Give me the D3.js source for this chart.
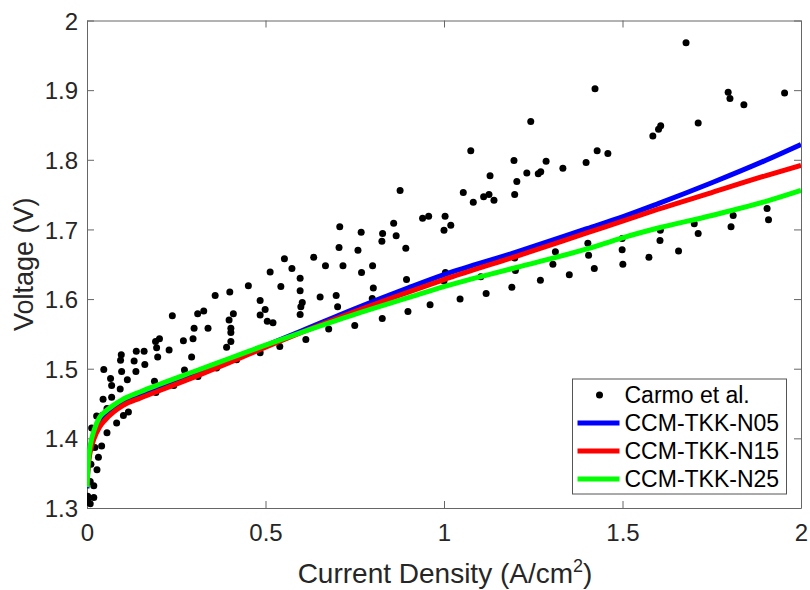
<!DOCTYPE html>
<html lang="en">
<head>
<meta charset="UTF-8">
<title>Voltage vs Current Density</title>
<script src="https://d3js.org/d3.v7.min.js"></script>
<style>
  body { margin: 0; background: #fff; }
  text { font-family: Helvetica, Arial, "Liberation Sans", sans-serif; }
</style>
</head>
<body>
<div id="chart"></div>
<script>
// measured points (Carmo et al.)
var carmoX = [0.002,0.019,0.009,0.002,0.009,0.019,0.011,0.028,0.032,0.022,0.041,0.056,0.013,0.083,0.027,0.043,0.102,0.116,0.056,
  0.045,0.069,0.132,0.093,0.069,0.066,0.113,0.189,0.243,0.193,0.047,0.097,0.137,0.162,0.273,0.311,0.363,
  0.132,0.094,0.096,0.138,0.160,0.198,0.293,0.419,0.195,0.230,0.192,0.203,0.270,0.297,0.403,0.391,
  0.300,0.339,0.403,0.403,0.239,0.310,0.327,0.410,0.398,0.359,0.400,0.452,0.485,0.499,0.485,0.505,0.521,0.485,
  0.877,0.940,0.957,0.708,0.859,0.768,0.828,0.866,0.826,0.706,0.759,0.893,
  0.553,0.635,0.574,0.668,0.717,0.800,0.513,0.769,0.597,0.543,0.895,0.802,0.597,0.653,0.698,0.799,0.603,0.599,0.702,0.597,0.961,0.899,0.827,0.750,0.677,0.613,0.540,
  1.243,1.075,1.196,1.286,1.129,1.232,1.264,1.271,1.333,1.398,1.429,1.459,1.204,1.054,1.082,1.111,1.126,1.140,1.198,1.003,1.019,1.000,
  1.004,1.000,1.045,1.103,1.118,1.198,1.200,1.190,1.312,1.305,1.270,1.351,1.403,1.405,1.421,1.499,1.499,1.501,1.423,
  1.678,1.796,1.801,1.840,1.954,1.712,1.607,1.601,1.585,1.905,1.909,1.810,1.804,1.701,1.712,1.606,1.605,1.657,1.574];
var carmoV = [1.317,1.315,1.306,1.311,1.338,1.332,1.363,1.355,1.373,1.387,1.389,1.408,1.415,1.422,1.432,1.433,1.433,1.438,1.443,
  1.456,1.459,1.460,1.471,1.476,1.486,1.484,1.482,1.476,1.466,1.499,1.496,1.496,1.506,1.498,1.489,1.501,
  1.511,1.512,1.520,1.525,1.525,1.517,1.517,1.513,1.530,1.527,1.539,1.543,1.540,1.543,1.539,1.531,
  1.558,1.558,1.558,1.552,1.576,1.579,1.583,1.579,1.570,1.605,1.610,1.619,1.598,1.585,1.577,1.568,1.566,1.523,
  1.756,1.716,1.719,1.704,1.709,1.696,1.694,1.691,1.683,1.674,1.670,1.673,
  1.658,1.660,1.644,1.648,1.648,1.648,1.639,1.638,1.630,1.618,1.628,1.616,1.612,1.603,1.605,1.601,1.595,1.589,1.589,1.578,1.592,1.582,1.572,1.562,1.557,1.542,1.532,
  1.855,1.813,1.799,1.798,1.777,1.781,1.780,1.783,1.788,1.796,1.813,1.809,1.769,1.753,1.739,1.747,1.750,1.742,1.750,1.719,1.706,1.699,
  1.638,1.626,1.600,1.632,1.608,1.659,1.641,1.617,1.668,1.650,1.627,1.635,1.680,1.663,1.644,1.687,1.671,1.650,1.902,
  1.968,1.897,1.888,1.879,1.896,1.853,1.849,1.844,1.834,1.730,1.714,1.720,1.704,1.708,1.694,1.699,1.684,1.669,1.660];

// model curves
var modelX = [0,0.002,0.005,0.01,0.02,0.035,0.05,0.075,0.1,0.15,0.2,0.3,0.4,0.5,0.6,0.75,0.9,1.0,1.2,1.4,1.5,1.6,1.75,1.9,2.0];
var n05 = [1.328,1.352,1.372,1.388,1.407,1.424,1.433,1.444,1.452,1.463,1.473,1.492,1.512,1.533,1.554,1.586,1.616,1.635,1.667,1.701,1.718,1.737,1.767,1.799,1.822];
var n15 = [1.330,1.350,1.368,1.383,1.400,1.416,1.426,1.438,1.447,1.458,1.468,1.488,1.509,1.531,1.552,1.582,1.610,1.628,1.661,1.695,1.712,1.729,1.753,1.777,1.792];
var n25 = [1.330,1.355,1.375,1.392,1.412,1.430,1.438,1.448,1.456,1.467,1.477,1.496,1.515,1.534,1.552,1.578,1.602,1.618,1.645,1.672,1.688,1.702,1.720,1.740,1.756];

var xTicks = [0, 0.5, 1, 1.5, 2];
var yTicks = [1.3, 1.4, 1.5, 1.6, 1.7, 1.8, 1.9, 2];

var margin = { top: 20.5, right: 9, bottom: 82, left: 87 },
    width = 810 - margin.left - margin.right,
    height = 590 - margin.top - margin.bottom;

var svg = d3.select("#chart")
    .append("svg")
    .attr("width", 810)
    .attr("height", 590)
    .append("g")
    .attr("transform", "translate(" + margin.left + "," + margin.top + ")");

var x = d3.scaleLinear().domain([0, 2]).range([0, width]);
var y = d3.scaleLinear().domain([1.3, 2]).range([height, 0]);

svg.append("clipPath").attr("id", "clip")
    .append("rect").attr("width", width).attr("height", height);

var axisColor = "#666";
var tickLen = 7;

// x axis (bottom + top, ticks inside)
svg.append("g")
    .attr("transform", "translate(0," + height + ")")
    .call(d3.axisBottom(x).tickValues(xTicks).tickSizeInner(-tickLen).tickSizeOuter(0).tickFormat(d3.format("")))
    .call(function(g) {
        g.select(".domain").attr("stroke", axisColor);
        g.selectAll(".tick line").attr("stroke", axisColor);
        g.selectAll(".tick text").attr("fill", "#262626").style("font-size", "24px")
            .attr("y", 33).attr("dy", 0);
    });
svg.append("g")
    .call(d3.axisTop(x).tickValues(xTicks).tickSizeInner(-tickLen).tickSizeOuter(0).tickFormat(""))
    .call(function(g) {
        g.select(".domain").attr("stroke", axisColor);
        g.selectAll(".tick line").attr("stroke", axisColor);
    });

// y axis (left + right)
svg.append("g")
    .call(d3.axisLeft(y).tickValues(yTicks).tickSizeInner(-tickLen).tickSizeOuter(0).tickFormat(d3.format("")))
    .call(function(g) {
        g.select(".domain").attr("stroke", axisColor);
        g.selectAll(".tick line").attr("stroke", axisColor);
        g.selectAll(".tick text").attr("fill", "#262626").style("font-size", "24px")
            .attr("x", -9).attr("dy", "0.36em");
    });
svg.append("g")
    .attr("transform", "translate(" + width + ",0)")
    .call(d3.axisRight(y).tickValues(yTicks).tickSizeInner(-tickLen).tickSizeOuter(0).tickFormat(""))
    .call(function(g) {
        g.select(".domain").attr("stroke", axisColor);
        g.selectAll(".tick line").attr("stroke", axisColor);
    });

// axis labels
var xl = svg.append("text")
    .attr("x", width / 2 + 1)
    .attr("y", 562)
    .attr("text-anchor", "middle")
    .attr("fill", "#262626")
    .style("font-size", "28px");
xl.append("tspan").text("Current Density (A/cm");
xl.append("tspan").attr("dy", -11).style("font-size", "18px").text("2");
xl.append("tspan").attr("dy", 11).text(")");

svg.append("text")
    .attr("transform", "rotate(-90)")
    .attr("x", -height / 2)
    .attr("y", -54)
    .attr("text-anchor", "middle")
    .attr("fill", "#262626")
    .style("font-size", "27px")
    .text("Voltage (V)");

var plot = svg.append("g").attr("clip-path", "url(#clip)");

// scatter points
var pts = carmoX.map(function(d, i) { return { x: d, v: carmoV[i] }; });
plot.append("g")
    .selectAll("circle")
    .data(pts)
    .enter()
    .append("circle")
    .attr("cx", function(d) { return x(d.x); })
    .attr("cy", function(d) { return y(d.v); })
    .attr("r", 3.5)
    .attr("fill", "#000");

// model lines
var series = [
    { name: "CCM-TKK-N05", vals: n05, color: "#0000ff" },
    { name: "CCM-TKK-N15", vals: n15, color: "#ff0000" },
    { name: "CCM-TKK-N25", vals: n25, color: "#00ff00" }
];
var line = d3.line()
    .x(function(d) { return x(d[0]); })
    .y(function(d) { return y(d[1]); })
    .curve(d3.curveMonotoneX);

series.forEach(function(s) {
    plot.append("path")
        .datum(modelX.map(function(d, i) { return [d, s.vals[i]]; }))
        .attr("fill", "none")
        .attr("stroke", s.color)
        .attr("stroke-width", 5)
        .attr("d", line);
});

// legend
var lg = svg.append("g").attr("transform", "translate(" + (572.5 - margin.left) + "," + (379 - margin.top) + ")");
lg.append("rect")
    .attr("width", 214)
    .attr("height", 115)
    .attr("fill", "#fff")
    .attr("stroke", "#555")
    .attr("stroke-width", 1);
var rowY = [16, 44, 72, 100];
lg.append("circle").attr("cx", 27).attr("cy", rowY[0]).attr("r", 3.5).attr("fill", "#000");
series.forEach(function(s, i) {
    lg.append("line")
        .attr("x1", 5).attr("x2", 47)
        .attr("y1", rowY[i + 1]).attr("y2", rowY[i + 1])
        .attr("stroke", s.color)
        .attr("stroke-width", 5);
});
var labels = ["Carmo et al."].concat(series.map(function(s) { return s.name; }));
labels.forEach(function(t, i) {
    lg.append("text")
        .attr("x", 52)
        .attr("y", rowY[i])
        .attr("dy", "0.36em")
        .attr("fill", "#000")
        .style("font-size", "23px")
        .text(t);
});
</script>
</body>
</html>
